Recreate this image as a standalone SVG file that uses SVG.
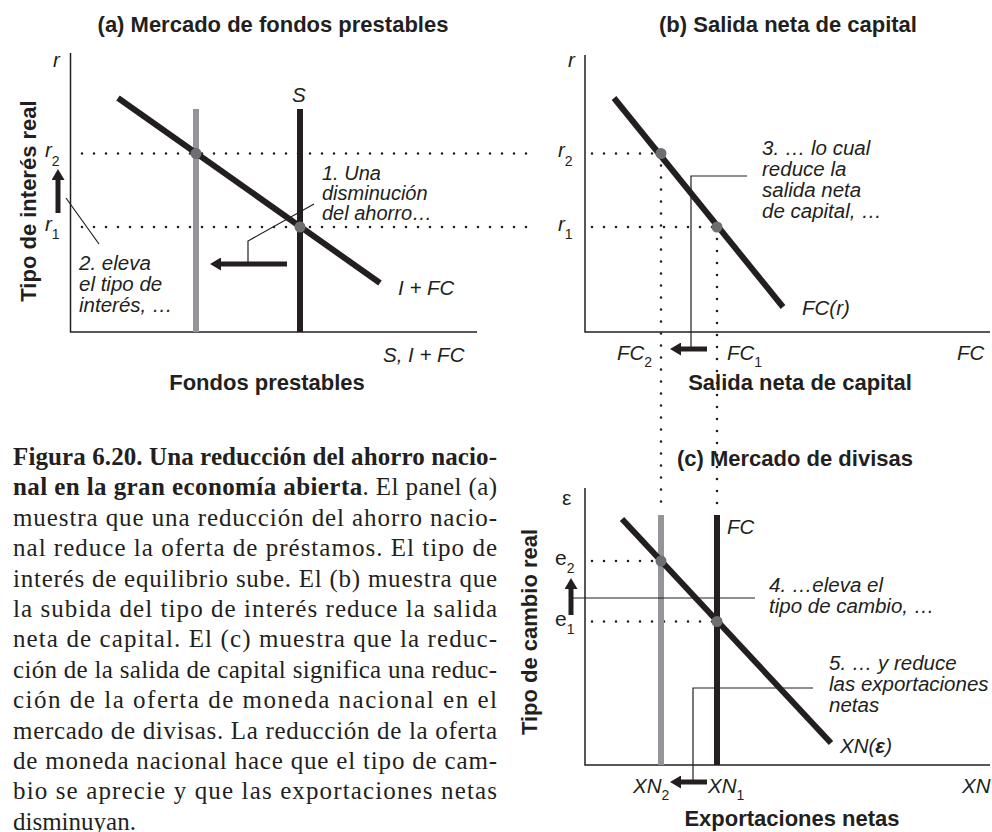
<svg xmlns="http://www.w3.org/2000/svg" width="992" height="832" viewBox="0 0 992 832">
<defs>
<style>
.bg{fill:#ffffff}
.ax{fill:none;stroke:#231f20;stroke-width:1.5}
.crv{fill:none;stroke:#231f20;stroke-width:6}
.gry{fill:none;stroke:#939598;stroke-width:6}
.dot{fill:none;stroke:#231f20;stroke-width:2.6;stroke-linecap:round;stroke-dasharray:0 12}
.pt{fill:#6d6e71}
.ld{fill:none;stroke:#231f20;stroke-width:1.2}
.arr{fill:none;stroke:#231f20;stroke-width:5;marker-end:url(#ah)}
.t{font-family:"Liberation Sans",Arial,sans-serif;fill:#231f20}
.ti{font-family:"Liberation Sans",Arial,sans-serif;font-weight:bold;font-size:22px;fill:#231f20;text-anchor:middle}
.it{font-family:"Liberation Sans",Arial,sans-serif;font-style:italic;font-size:20.5px;fill:#231f20}
.sm{font-size:20px}
.sub{font-style:normal;font-size:14px}
.cap{font-family:"Liberation Serif","Times New Roman",serif;font-size:25px;fill:#231f20}
.b{font-weight:bold}
</style>
<marker id="ah" markerUnits="userSpaceOnUse" markerWidth="12" markerHeight="13" refX="0" refY="6.5" orient="auto">
<path d="M0,0 L11,6.5 L0,13 z" fill="#231f20"/>
</marker>
</defs>
<rect class="bg" x="0" y="0" width="992" height="832"/>

<g id="panel-a">
<text class="ti" x="273" y="32">(a) Mercado de fondos prestables</text>
<path class="ax" d="M70.5,53 V332 H477"/>
<line class="dot" x1="82" y1="153.5" x2="530" y2="153.5"/>
<line class="dot" x1="82" y1="227" x2="530" y2="227"/>
<line class="gry" x1="196" y1="109" x2="196" y2="332"/>
<line class="crv" x1="300" y1="109" x2="300" y2="332"/>
<line class="crv" x1="118" y1="98" x2="380" y2="283"/>
<circle class="pt" cx="196" cy="153.5" r="5.5"/>
<circle class="pt" cx="300" cy="227" r="5.5"/>
<text class="it" x="53" y="67">r</text>
<text class="it" x="292" y="102">S</text>
<text class="it" x="45" y="157">r<tspan class="sub" dy="9">2</tspan></text>
<text class="it" x="45" y="231">r<tspan class="sub" dy="8">1</tspan></text>
<text class="it" x="398" y="295">I + FC</text>
<text class="it" x="383" y="362">S, I + FC</text>
<text class="ti" x="267" y="390">Fondos prestables</text>
<text class="ti" transform="translate(36,201) rotate(-90)">Tipo de interés real</text>
<text class="it sm" x="322" y="180">1. Una</text>
<text class="it sm" x="322" y="200">disminución</text>
<text class="it sm" x="322" y="220">del ahorro…</text>
<text class="it" x="79" y="270">2. eleva</text>
<text class="it" x="79" y="291">el tipo de</text>
<text class="it" x="79" y="312">interés, …</text>
</g>

<g id="panel-b">
<text class="ti" x="788" y="32">(b) Salida neta de capital</text>
<path class="ax" d="M585,55 V332 H990"/>
<line class="dot" x1="592" y1="153.5" x2="661" y2="153.5"/>
<line class="dot" x1="592" y1="227" x2="717" y2="227"/>
<line class="dot" x1="661" y1="165.5" x2="661" y2="512"/>
<line class="dot" x1="717" y1="239" x2="717" y2="512"/>
<line class="crv" x1="614" y1="98" x2="783" y2="307"/>
<circle class="pt" cx="661" cy="153.5" r="5.5"/>
<circle class="pt" cx="717" cy="227" r="5.5"/>
<text class="it" x="568" y="67">r</text>
<text class="it" x="558" y="157">r<tspan class="sub" dy="9">2</tspan></text>
<text class="it" x="558" y="231">r<tspan class="sub" dy="8">1</tspan></text>
<text class="it" x="762" y="155">3. … lo cual</text>
<text class="it" x="762" y="176">reduce la</text>
<text class="it" x="762" y="197">salida neta</text>
<text class="it" x="762" y="218">de capital, …</text>
<text class="it" x="802" y="315">FC(r)</text>
<text class="it" x="617" y="360">FC<tspan class="sub" dy="7">2</tspan></text>
<text class="it" x="727" y="360">FC<tspan class="sub" dy="7">1</tspan></text>
<text class="it" x="957" y="360">FC</text>
<text class="ti" x="800" y="390">Salida neta de capital</text>
</g>

<g id="panel-c">
<text class="ti" x="795" y="466">(c) Mercado de divisas</text>
<path class="ax" d="M585,488 V765 H990"/>
<line class="dot" x1="592" y1="561" x2="661" y2="561"/>
<line class="dot" x1="592" y1="621.5" x2="717" y2="621.5"/>
<line class="gry" x1="661" y1="515" x2="661" y2="765"/>
<line class="crv" x1="717" y1="515" x2="717" y2="765"/>
<line class="crv" x1="622" y1="519" x2="831" y2="743"/>
<circle class="pt" cx="661" cy="561" r="5.5"/>
<circle class="pt" cx="717" cy="621.5" r="5.5"/>
<text class="t" font-size="21" x="562" y="505">ε</text>
<text class="it" x="727" y="534">FC</text>
<text class="t" font-size="21" x="555" y="565">e<tspan class="sub" dy="8">2</tspan></text>
<text class="t" font-size="21" x="555" y="626">e<tspan class="sub" dy="8">1</tspan></text>
<text class="it" x="769" y="592">4. …eleva el</text>
<text class="it" x="769" y="613">tipo de cambio, …</text>
<text class="it" x="829" y="670">5. … y reduce</text>
<text class="it" x="829" y="691">las exportaciones</text>
<text class="it" x="829" y="712">netas</text>
<text class="it" x="840" y="753">XN(<tspan font-weight="bold">ε</tspan>)</text>
<text class="it" x="633" y="793">XN<tspan class="sub" dy="7">2</tspan></text>
<text class="it" x="708" y="793">XN<tspan class="sub" dy="7">1</tspan></text>
<text class="it" x="962" y="793">XN</text>
<text class="ti" x="792" y="826">Exportaciones netas</text>
<text class="ti" transform="translate(537,632) rotate(-90)">Tipo de cambio real</text>
</g>

<g id="connectors">
<line class="arr" x1="58" y1="213" x2="58" y2="180"/>
<line class="ld" x1="66" y1="198" x2="99" y2="244"/>
<line class="arr" x1="287" y1="264" x2="221" y2="264"/>
<path class="ld" d="M248,264 V241 L314,204"/>
<path class="ld" d="M747,176 H691 V349"/>
<line class="arr" x1="707" y1="349" x2="681" y2="349"/>
<line class="ld" x1="573" y1="598" x2="755" y2="598"/>
<line class="arr" x1="571" y1="615" x2="571" y2="589"/>
<path class="ld" d="M813,688 H693 V782"/>
<line class="arr" x1="707" y1="782" x2="681" y2="782"/>
</g>

<g id="caption">
<text class="cap b" x="13" y="465" textLength="484" lengthAdjust="spacing">Figura 6.20. Una reducción del ahorro nacio-</text>
<text class="cap" x="13" y="495.4" textLength="484" lengthAdjust="spacing"><tspan class="b">nal en la gran economía abierta</tspan>. El panel (a)</text>
<text class="cap" x="13" y="525.8" textLength="484" lengthAdjust="spacing">muestra que una reducción del ahorro nacio-</text>
<text class="cap" x="13" y="556.2" textLength="484" lengthAdjust="spacing">nal reduce la oferta de préstamos. El tipo de</text>
<text class="cap" x="13" y="586.6" textLength="484" lengthAdjust="spacing">interés de equilibrio sube. El (b) muestra que</text>
<text class="cap" x="13" y="617" textLength="484" lengthAdjust="spacing">la subida del tipo de interés reduce la salida</text>
<text class="cap" x="13" y="647.4" textLength="484" lengthAdjust="spacing">neta de capital. El (c) muestra que la reduc-</text>
<text class="cap" x="13" y="677.8" textLength="484" lengthAdjust="spacing">ción de la salida de capital significa una reduc-</text>
<text class="cap" x="13" y="708.2" textLength="484" lengthAdjust="spacing">ción de la oferta de moneda nacional en el</text>
<text class="cap" x="13" y="738.6" textLength="484" lengthAdjust="spacing">mercado de divisas. La reducción de la oferta</text>
<text class="cap" x="13" y="769" textLength="484" lengthAdjust="spacing">de moneda nacional hace que el tipo de cam-</text>
<text class="cap" x="13" y="799.4" textLength="484" lengthAdjust="spacing">bio se aprecie y que las exportaciones netas</text>
<text class="cap" x="13" y="829.8">disminuyan.</text>
</g>
</svg>
